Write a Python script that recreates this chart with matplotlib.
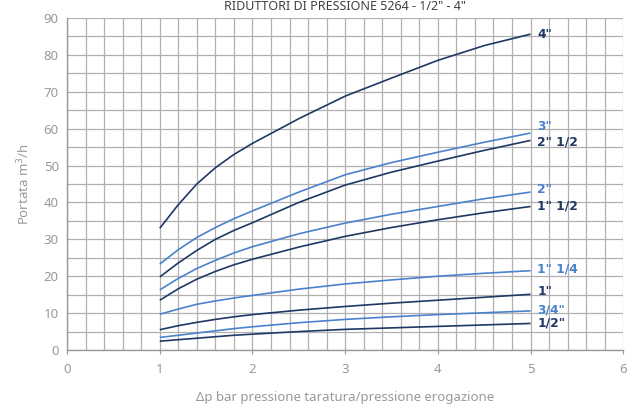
import matplotlib
matplotlib.use("Agg")
import matplotlib.pyplot as plt
from matplotlib.ticker import MultipleLocator

plt.rcParams['font.family'] = ['Noto Sans', 'DejaVu Sans']

x = [1, 1.2, 1.4, 1.6, 1.8, 2, 2.5, 3, 3.5, 4, 4.5, 5]

labels = ['4"', '3"', '2" 1/2', '2"', '1" 1/2', '1" 1/4', '1"', '3/4"', '1/2"']
s_4 = [33, 39.4, 45, 49.4, 53, 56, 62.7, 68.8, 73.7, 78.5, 82.5, 85.6]
s_3 = [23.3, 27.2, 30.5, 33.2, 35.6, 37.7, 42.8, 47.5, 50.8, 53.6, 56.3, 58.8]
s_2_12 = [19.8, 23.6, 27, 30, 32.4, 34.5, 40, 44.7, 48.2, 51.2, 54.1, 56.8]
s_2 = [16.3, 19.4, 22.1, 24.3, 26.3, 28, 31.5, 34.4, 36.8, 38.9, 41, 42.8]
s_1_12 = [13.5, 16.6, 19.2, 21.3, 23.1, 24.6, 27.9, 30.8, 33.2, 35.3, 37.2, 38.9]
s_1_14 = [9.7, 11.1, 12.4, 13.3, 14.1, 14.8, 16.5, 17.9, 19, 20, 20.8, 21.5]
s_1 = [5.5, 6.6, 7.5, 8.3, 9, 9.6, 10.8, 11.8, 12.7, 13.5, 14.3, 15.1]
s_34 = [3.4, 4.0, 4.6, 5.2, 5.8, 6.3, 7.4, 8.3, 9.0, 9.6, 10.1, 10.6]
s_12 = [2.4, 2.8, 3.2, 3.6, 4.0, 4.3, 5.0, 5.6, 6.0, 6.4, 6.8, 7.2]
series = [s_4, s_3, s_2_12, s_2, s_1_12, s_1_14, s_1, s_34, s_12]

DARK = '#1f3864'
LIGHT = '#4a82cc'
colors = [DARK, LIGHT, DARK, LIGHT, DARK, LIGHT, DARK, LIGHT, DARK]
label_dy = [0, 5, -1, 2, 0, 1, 2, 1, 0]

fig = plt.figure(figsize=(6.27, 4.07), dpi=100)
ax = fig.add_axes([0.107, 0.14, 0.887, 0.816])

for ys, c, lab, dy in zip(series, colors, labels, label_dy):
    ax.plot(x, ys, color=c, lw=1.2, solid_capstyle='butt', zorder=3)
    ax.annotate(lab, xy=(x[-1], ys[-1]), xytext=(5, dy), textcoords='offset points',
                ha='left', va='center', fontsize=8.8, fontweight='bold', color=c,
                family=['DejaVu Sans'], annotation_clip=False, zorder=4)

ax.set_xlim(0, 6)
ax.set_ylim(0, 90)
ax.xaxis.set_major_locator(MultipleLocator(1))
ax.xaxis.set_minor_locator(MultipleLocator(0.2))
ax.yaxis.set_major_locator(MultipleLocator(10))
ax.yaxis.set_minor_locator(MultipleLocator(5))
ax.grid(which='both', color='#b0b0b0', lw=0.9, zorder=1)
ax.set_axisbelow(True)
for side in ['top', 'right']:
    ax.spines[side].set_visible(False)
for side in ['left', 'bottom']:
    ax.spines[side].set_color('#999999')
    ax.spines[side].set_linewidth(1.0)
ax.tick_params(axis='both', which='major', colors='#999999', labelsize=9.5, length=4)
ax.tick_params(axis='y', which='major', length=0, pad=6)
ax.tick_params(axis='both', which='minor', length=0)
ax.tick_params(axis='x', which='major', direction='out', length=3, pad=6)
for t in ax.get_xticklabels() + ax.get_yticklabels():
    t.set_color('#999999')

ax.set_ylabel('Portata m$^3$/h', color='#999999', fontsize=9.5, labelpad=8)
ax.set_xlabel('Δp bar pressione taratura/pressione erogazione', color='#999999',
              fontsize=9.5, labelpad=11)

fig.text(0.55, 1.0, 'RIDUTTORI DI PRESSIONE 5264 - 1/2" - 4"', ha='center', va='top',
         fontsize=9, color='#404040')

fig.savefig('out.png', dpi=100)
